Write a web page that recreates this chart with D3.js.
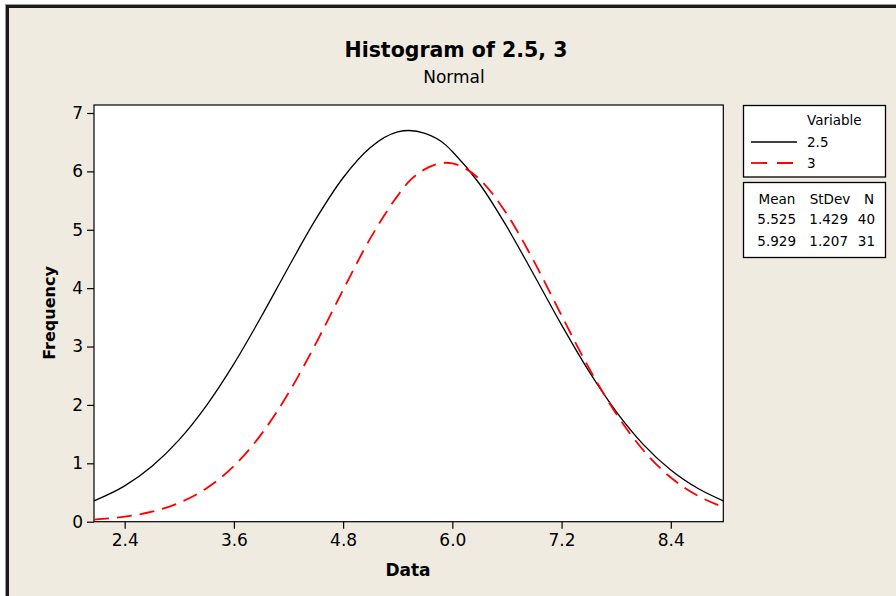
<!DOCTYPE html>
<html><head><meta charset="utf-8">
<script src="https://cdn.jsdelivr.net/npm/d3@7/dist/d3.min.js"></script>
<style>
html,body{margin:0;padding:0;background:#fff;}
svg{display:block;}
text{font-family:"DejaVu Sans",Verdana,sans-serif;fill:#000;}
</style></head>
<body>
<script>
// ---- data ----
const title = "Histogram of 2.5, 3";
const subtitle = "Normal";
const xLabel = "Data";
const yLabel = "Frequency";
const xTicks = [2.4, 3.6, 4.8, 6.0, 7.2, 8.4];
const yTicks = [0, 1, 2, 3, 4, 5, 6, 7];
const seriesNames = ["2.5", "3"];
const statsHeader = ["Mean", "StDev", "N"];
const statsRows = [["5.525", "1.429", "40"], ["5.929", "1.207", "31"]];

const xs = [2.063, 2.4, 2.7, 3.0, 3.3, 3.6, 3.9, 4.2, 4.5, 4.8, 5.1, 5.4, 5.525, 5.7, 5.929, 6.0, 6.3, 6.6, 6.9, 7.2, 7.5, 7.8, 8.1, 8.4, 8.7, 8.977];
const y25 = [0.357, 0.614, 0.950, 1.406, 1.994, 2.704, 3.510, 4.359, 5.181, 5.891, 6.410, 6.675, 6.700, 6.650, 6.450, 6.340, 5.784, 5.049, 4.217, 3.371, 2.578, 1.887, 1.321, 0.885, 0.568, 0.357];
const y3  = [0.036, 0.086, 0.172, 0.324, 0.574, 0.955, 1.496, 2.203, 3.051, 3.970, 4.856, 5.585, 5.830, 6.039, 6.148, 6.137, 5.864, 5.267, 4.449, 3.531, 2.635, 1.849, 1.220, 0.756, 0.441, 0.252];

const W = 896, H = 596;
const svg = d3.select("body").append("svg").attr("width", W).attr("height", H);

// background + frame
svg.append("rect").attr("x",0).attr("y",0).attr("width",W).attr("height",H).attr("fill","#ffffff");
svg.append("rect").attr("x",5).attr("y",4).attr("width",W).attr("height",H).attr("fill","#efebe1");
svg.append("line").attr("x1",5).attr("x2",W).attr("y1",4.5).attr("y2",4.5).attr("stroke","#9a9a9a").attr("stroke-width",1);
svg.append("line").attr("x1",5).attr("x2",W).attr("y1",6.5).attr("y2",6.5).attr("stroke","#1a1a1a").attr("stroke-width",3);
svg.append("line").attr("x1",5.5).attr("x2",5.5).attr("y1",4).attr("y2",H).attr("stroke","#9a9a9a").attr("stroke-width",1);
svg.append("line").attr("x1",7.5).attr("x2",7.5).attr("y1",5).attr("y2",H).attr("stroke","#1a1a1a").attr("stroke-width",3);

const L = 94, R = 723.3, T = 105, B = 521.7;
const x = d3.scaleLinear().domain([2.063, 8.977]).range([L, R]);
const y = d3.scaleLinear().domain([0, 7]).range([B, 113]);

svg.append("rect").attr("x",L).attr("y",T).attr("width",R-L).attr("height",B-T)
  .attr("fill","#fff").attr("stroke","#000").attr("stroke-width",1.2);

const xAxis = svg.append("g").attr("transform",`translate(0,${B})`)
  .call(d3.axisBottom(x).tickValues(xTicks).tickFormat(d3.format(".1f")).tickSize(7).tickPadding(5));
const yAxis = svg.append("g").attr("transform",`translate(${L},0)`)
  .call(d3.axisLeft(y).tickValues(yTicks).tickFormat(d3.format("d")).tickSize(7).tickPadding(4));
[xAxis, yAxis].forEach(g => {
  g.select(".domain").remove();
  g.selectAll("line").attr("stroke","#000").attr("stroke-width",1.2);
  g.selectAll("text").style("font-family","DejaVu Sans, sans-serif").style("font-size","17px").attr("fill","#000");
});

const line = d3.line().x(d => x(d[0])).y(d => y(d[1])).curve(d3.curveMonotoneX);
svg.append("path").datum(xs.map((v,i)=>[v,y25[i]])).attr("d",line)
  .attr("fill","none").attr("stroke","#000").attr("stroke-width",1.3);
svg.append("path").datum(xs.map((v,i)=>[v,y3[i]])).attr("d",line)
  .attr("fill","none").attr("stroke","#ff0000").attr("stroke-width",1.8).attr("stroke-dasharray","15,8");

// titles
svg.append("text").attr("x",456).attr("y",57).attr("text-anchor","middle")
  .style("font-weight","bold").style("font-size","20.5px").text(title);
svg.append("text").attr("x",454).attr("y",83).attr("text-anchor","middle")
  .style("font-size","17px").text(subtitle);
svg.append("text").attr("x",408).attr("y",576).attr("text-anchor","middle")
  .style("font-weight","bold").style("font-size","17px").text(xLabel);
svg.append("text").attr("transform","translate(55,313) rotate(-90)").attr("text-anchor","middle")
  .style("font-weight","bold").style("font-size","16px").text(yLabel);

// legend
const lg = svg.append("g");
lg.append("rect").attr("x",743.5).attr("y",105.5).attr("width",142).attr("height",71.5)
  .attr("fill","#fff").attr("stroke","#000").attr("stroke-width",1.3);
lg.append("text").attr("x",807).attr("y",125).style("font-size","13.5px").text("Variable");
const colors = ["#000", "#ff0000"];
seriesNames.forEach((s,i) => {
  const yy = 147 + i*21;
  lg.append("line").attr("x1",751).attr("x2",797).attr("y1",yy-5).attr("y2",yy-5)
    .attr("stroke",colors[i]).attr("stroke-width",i? 1.8:1.4)
    .attr("stroke-dasharray", i ? "16,10" : null);
  lg.append("text").attr("x",807).attr("y",yy).style("font-size","13.5px").text(s);
});
lg.append("rect").attr("x",743.5).attr("y",182.5).attr("width",142).attr("height",75)
  .attr("fill","#fff").attr("stroke","#000").attr("stroke-width",1.3);
const colPos = [777, 830, 874];
const colAnchor = ["middle", "middle", "end"];
statsHeader.forEach((h,j) => {
  lg.append("text").attr("x",colPos[j]).attr("y",204).attr("text-anchor",colAnchor[j]).style("font-size","13.5px").text(h);
});
const valRight = [796, 848, 875];
statsRows.forEach((row,i) => {
  row.forEach((v,j) => {
    lg.append("text").attr("x",valRight[j]).attr("y",224+i*21.5).attr("text-anchor","end").style("font-size","13.5px").text(v);
  });
});
</script>
</body></html>
